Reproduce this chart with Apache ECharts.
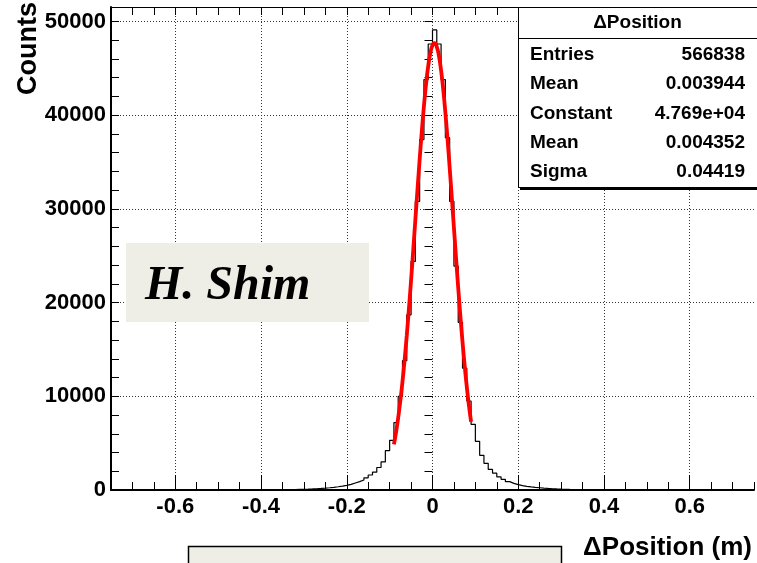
<!DOCTYPE html>
<html><head><meta charset="utf-8">
<script src="https://cdn.jsdelivr.net/npm/echarts@6/dist/echarts.min.js"></script>
<style>html,body{margin:0;padding:0;background:#fff}#c{width:757px;height:563px}</style>
</head><body><div id="c"></div>
<script>
// ---- data ----
const binStart = -0.75;
const binWidth = 0.01;
// bins with low edges -0.75 ... -0.01
const countsNeg = [
  0,0,1,0,0,1,0,1,1,0,1,1,1,1,2,1,2,2,2,2,2,3,2,3,3,
  3,3,4,4,5,5,6,7,8,9,
  10,12,15,19,24,30,38,48,60,74,
  90,110,135,165,200,240,290,350,420,500,
  600,750,890,1070,1300,1600,1900,2400,3000,4200,
  5300,7200,10000,13800,18700,24400,30800,37400,43800,47600
];
// bins with low edges 0.00 ... 0.74
const countsPos = [
  49100,47600,43800,37600,30800,23900,17900,13000,9500,7000,
  5200,3700,2850,2200,1800,1400,1140,890,710,570,
  460,390,330,280,240,200,165,135,110,90,
  72,58,46,37,29,23,18,14,11,9,
  7,6,5,4,4,3,3,2,2,2,
  2,1,2,1,1,1,1,0,1,1,0,1,0,0,1,0,0,0,1,0,0,0,0,0,0
];
const fitX = [-0.09,-0.085,-0.08,-0.075,-0.07,-0.065,-0.06,-0.055,-0.05,-0.045,-0.04,-0.035,-0.03,-0.025,-0.02,-0.015,-0.01,-0.005,0,
  0.005,0.01,0.015,0.02,0.025,0.03,0.035,0.04,0.045,0.05,0.055,0.06,0.065,0.07,0.075,0.08,0.085,0.09];
const fitY = [4881,6176,7713,9511,11580,13920,16518,19353,22383,25562,28822,32081,35255,38249,40973,43329,45242,46634,47459,
  47685,47302,46325,44791,42757,40295,37495,34443,31237,27971,24725,21580,18594,15819,13285,11016,9019,7289];
const xMajorTicks = [-0.6,-0.4,-0.2,0,0.2,0.4,0.6];
const xTickLabels = ['-0.6','-0.4','-0.2','0','0.2','0.4','0.6'];
const yMajorTicks = [0,10000,20000,30000,40000,50000];
const yTickLabels = ['0','10000','20000','30000','40000','50000'];
const statsTitle = '\u0394Position';
const statsNames = ['Entries','Mean','Constant','Mean','Sigma'];
const statsValues = ['566838','0.003944','4.769e+04','0.004352','0.04419'];
const xTitle = '\u0394Position (m)';
const yTitle = 'Counts';
const stampText = 'H. Shim';

// ---- build ----
const counts = countsNeg.concat(countsPos);
const histData = counts.map((v, i) => [binStart + i * binWidth, v]);
histData.push([binStart + counts.length * binWidth, counts[counts.length - 1]]);
const fitData = fitX.map((x, i) => [x, fitY[i]]);

const FONT = 'Liberation Sans, Arial, Helvetica, sans-serif';
function xLabel(v) {
  for (let i = 0; i < xMajorTicks.length; i++) if (Math.abs(v - xMajorTicks[i]) < 1e-6) return xTickLabels[i];
  return '';
}
function yLabel(v) {
  for (let i = 0; i < yMajorTicks.length; i++) if (Math.abs(v - yMajorTicks[i]) < 1e-6) return yTickLabels[i];
  return '';
}
const grid = {left: 111, right: 1, top: 7, bottom: 73};
const dotted = {type: [1, 2], width: 1};

const chart = echarts.init(document.getElementById('c'), null, {renderer: 'canvas'});
const statRows = [];
statsNames.forEach((n, i) => {
  const y = 55 + i * 29.2;
  statRows.push({type: 'text', z: 102, x: 530, y: y, style: {text: n, fill: '#000', fontFamily: FONT, fontWeight: 'bold', fontSize: 19, align: 'left', verticalAlign: 'middle'}});
  statRows.push({type: 'text', z: 102, x: 745, y: y, style: {text: statsValues[i], fill: '#000', fontFamily: FONT, fontWeight: 'bold', fontSize: 19, align: 'right', verticalAlign: 'middle'}});
});

chart.setOption({
  animation: false,
  backgroundColor: '#fff',
  grid: grid,
  xAxis: [
    {type: 'value', position: 'bottom', min: -0.75, max: 0.75, interval: 0.05,
      axisLine: {show: true, onZero: false, lineStyle: {color: '#000', width: 2}},
      axisTick: {show: true, inside: true, length: 8, lineStyle: {color: '#000', width: 1}},
      axisLabel: {show: true, formatter: xLabel, color: '#000', fontFamily: FONT, fontWeight: 'bold', fontSize: 22, margin: 6, hideOverlap: false},
      splitLine: {show: true, lineStyle: {color: ['rgba(0,0,0,0)','rgba(0,0,0,0)','rgba(0,0,0,0)','#333'], type: dotted.type, width: 1}}},
    {type: 'value', position: 'bottom', min: -0.75, max: 0.75, interval: 0.05,
      axisLine: {show: false},
      axisTick: {show: true, inside: true, length: 15, customValues: xMajorTicks, lineStyle: {color: '#000', width: 1}},
      axisLabel: {show: false}, splitLine: {show: false}},
    {type: 'value', position: 'top', min: -0.75, max: 0.75, interval: 0.05,
      axisLine: {show: true, onZero: false, lineStyle: {color: '#000', width: 1}},
      axisTick: {show: true, inside: true, length: 8, lineStyle: {color: '#000', width: 1}},
      axisLabel: {show: false}, splitLine: {show: false}}
  ],
  yAxis: [
    {type: 'value', position: 'left', min: 0, max: 51550, interval: 2000,
      axisLine: {show: true, onZero: false, lineStyle: {color: '#000', width: 2}},
      axisTick: {show: true, inside: true, length: 8, lineStyle: {color: '#000', width: 1}},
      axisLabel: {show: true, formatter: yLabel, color: '#000', fontFamily: FONT, fontWeight: 'bold', fontSize: 22, margin: 5, hideOverlap: false},
      splitLine: {show: true, lineStyle: {color: ['#333','rgba(0,0,0,0)','rgba(0,0,0,0)','rgba(0,0,0,0)','rgba(0,0,0,0)'], type: dotted.type, width: 1}}},
    {type: 'value', position: 'right', min: 0, max: 51550, interval: 2000,
      axisLine: {show: false},
      axisTick: {show: true, inside: true, length: 8, lineStyle: {color: '#000', width: 1}},
      axisLabel: {show: false}, splitLine: {show: false}}
  ],
  series: [
    {type: 'line', name: 'hist', xAxisIndex: 0, yAxisIndex: 0, data: histData, step: 'end',
      showSymbol: false, symbol: 'none', lineStyle: {color: '#000', width: 1.2}, z: 3, silent: true},
    {type: 'line', name: 'fit', xAxisIndex: 0, yAxisIndex: 0, data: fitData, smooth: true,
      showSymbol: false, symbol: 'none', lineStyle: {color: '#ff0000', width: 3.8}, z: 4, silent: true}
  ],
  graphic: {elements: [
    {type: 'text', z: 100, x: 29, y: 2, rotation: Math.PI / 2,
      style: {text: yTitle, fill: '#000', fontFamily: FONT, fontWeight: 'bold', fontSize: 27, align: 'right', verticalAlign: 'middle'}},
    {type: 'text', z: 100, x: 752, y: 548,
      style: {text: xTitle, fill: '#000', fontFamily: FONT, fontWeight: 'bold', fontSize: 26, align: 'right', verticalAlign: 'middle'}},
    {type: 'rect', z: 99, shape: {x: 520, y: 9, width: 250, height: 181}, style: {fill: '#000'}},
    {type: 'rect', z: 100, shape: {x: 518.5, y: 7.5, width: 250, height: 180}, style: {fill: '#fff', stroke: '#000', lineWidth: 1}},
    {type: 'line', z: 101, shape: {x1: 518.5, y1: 38.5, x2: 757, y2: 38.5}, style: {stroke: '#000', lineWidth: 1}},
    {type: 'text', z: 102, x: 637.5, y: 23, style: {text: statsTitle, fill: '#000', fontFamily: FONT, fontWeight: 'bold', fontSize: 19, align: 'center', verticalAlign: 'middle'}}
  ].concat(statRows).concat([
    {type: 'rect', z: 100, shape: {x: 126, y: 243, width: 243, height: 79}, style: {fill: '#eeede6'}},
    {type: 'text', z: 101, x: 145, y: 287,
      style: {text: stampText, fill: '#000', fontFamily: 'Liberation Serif, Times New Roman, serif', fontWeight: 'bold', fontStyle: 'italic', fontSize: 48, align: 'left', verticalAlign: 'middle'}},
    {type: 'rect', z: 100, shape: {x: 188.5, y: 546.5, width: 373, height: 30}, style: {fill: '#eeede6', stroke: '#000', lineWidth: 1.5}}
  ])}
});
</script>
</body></html>
